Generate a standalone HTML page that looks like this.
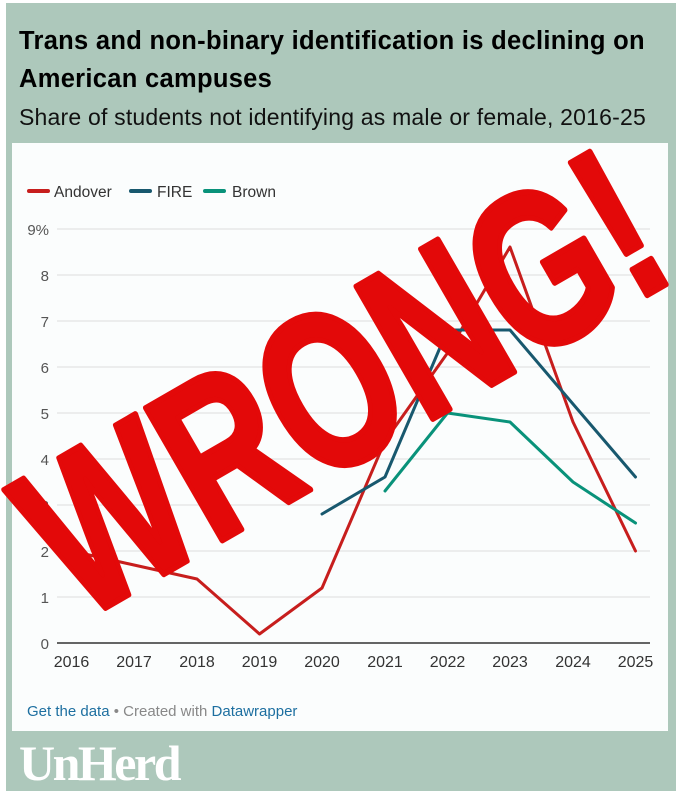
<!DOCTYPE html>
<html><head><meta charset="utf-8"><style>
html,body{margin:0;padding:0;background:#fff;}
body{width:676px;height:791px;position:relative;overflow:hidden;font-family:"Liberation Sans",sans-serif;}
.green{position:absolute;left:6px;top:3px;width:670px;height:788px;background:#adc8bb;}
.t{position:absolute;left:19px;top:22px;font-size:25.5px;font-weight:bold;line-height:38px;color:#000;letter-spacing:0.3px;white-space:nowrap;}
.s{position:absolute;left:19px;top:104px;font-size:23px;color:#111;letter-spacing:0.2px;white-space:nowrap;}
.panel{position:absolute;left:12px;top:143px;width:656px;height:588px;background:#fbfdfd;}
.logo{position:absolute;left:19px;top:734px;font-family:"Liberation Serif",serif;font-size:50px;font-weight:bold;color:#fff;letter-spacing:-2.5px;}
</style></head><body>
<div class="green"></div>
<div class="t">Trans and non-binary identification is declining on<br>American campuses</div>
<div class="s">Share of students not identifying as male or female, 2016-25</div>
<div class="panel"></div>
<svg width="676" height="791" style="position:absolute;left:0;top:0" font-family="Liberation Sans, sans-serif">
<g stroke="#e2e4e4" stroke-width="1.3">
<line x1="57" x2="650" y1="229" y2="229"/><line x1="57" x2="650" y1="275" y2="275"/>
<line x1="57" x2="650" y1="321" y2="321"/><line x1="57" x2="650" y1="367" y2="367"/>
<line x1="57" x2="650" y1="413" y2="413"/><line x1="57" x2="650" y1="459" y2="459"/>
<line x1="57" x2="650" y1="505" y2="505"/><line x1="57" x2="650" y1="551" y2="551"/>
<line x1="57" x2="650" y1="597" y2="597"/>
</g>
<line x1="57" x2="650" y1="643" y2="643" stroke="#333" stroke-width="1.5"/>
<g font-size="15" fill="#555" text-anchor="end">
<text x="49" y="235">9%</text><text x="49" y="281">8</text><text x="49" y="327">7</text>
<text x="49" y="373">6</text><text x="49" y="419">5</text><text x="49" y="465">4</text>
<text x="49" y="511">3</text><text x="49" y="557">2</text><text x="49" y="603">1</text><text x="49" y="649">0</text>
</g>
<g font-size="16" fill="#333" text-anchor="middle">
<text x="71.5" y="667">2016</text><text x="134" y="667">2017</text><text x="197" y="667">2018</text>
<text x="259.5" y="667">2019</text><text x="322" y="667">2020</text><text x="385" y="667">2021</text>
<text x="447.5" y="667">2022</text><text x="510" y="667">2023</text><text x="573" y="667">2024</text><text x="635.5" y="667">2025</text>
</g>
<g fill="none" stroke-width="3" stroke-linejoin="round" stroke-linecap="round">
<polyline stroke="#c71e1d" points="71.5,551 134,565 197,579 259.5,634 322,588 385,441 447.5,353 510,247 573,422 635.5,551"/>
<polyline stroke="#18586e" points="322,514 385,477 447.5,330 510,330 573,404 635.5,477"/>
<polyline stroke="#09927a" points="385,491 447.5,413 510,422 573,482 635.5,523"/>
</g>
<g font-size="15.5" fill="#333">
<line x1="29" x2="48" y1="191" y2="191" stroke="#c71e1d" stroke-width="4" stroke-linecap="round"/>
<text x="54" y="197">Andover</text>
<line x1="131" x2="150" y1="191" y2="191" stroke="#18586e" stroke-width="4" stroke-linecap="round"/>
<text x="157" y="197">FIRE</text>
<line x1="205" x2="224" y1="191" y2="191" stroke="#09927a" stroke-width="4" stroke-linecap="round"/>
<text x="232" y="197">Brown</text>
</g>
<text x="27" y="716" font-size="15" fill="#888"><tspan fill="#1d6fa0">Get the data</tspan> • Created with <tspan fill="#1d6fa0">Datawrapper</tspan></text>
<text transform="translate(340,380) rotate(-30) scale(0.73,1)" x="0" y="80" text-anchor="middle" font-size="222" font-weight="bold" fill="#e30909" stroke="#e30909" stroke-width="6" stroke-linejoin="round">WRONG!</text>
</svg>
<div class="logo">UnHerd</div>
</body></html>
